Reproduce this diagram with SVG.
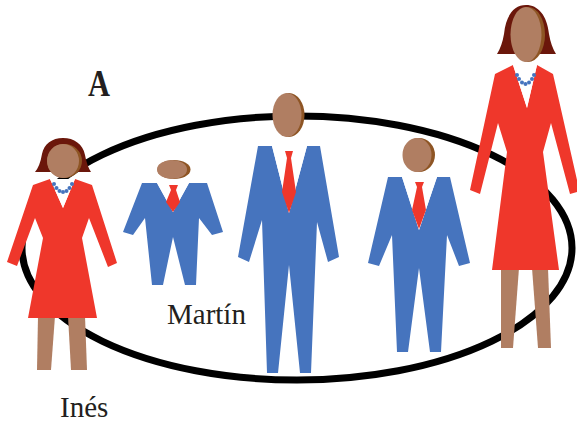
<svg xmlns="http://www.w3.org/2000/svg" width="577" height="425" viewBox="0 0 577 425">
  <defs>
    <style>
      .ring { fill: none; stroke: #000; stroke-width: 7; }
      .dress { fill: #EF372B; }
      .suit { fill: #4674BE; }
      .tie { fill: #EF372B; }
      .shirt { fill: #FFFFFF; }
      .skin { fill: #B07E62; }
      .shade { fill: #8E5524; }
      .hair { fill: #6B170B; }
      .bead { fill: #4674BE; }
      .label { font-family: "Liberation Serif", "Times New Roman", serif; fill: #231F20; }
    </style>
  </defs>

  <rect width="577" height="425" fill="#FFFFFF"/>

  <!-- family ring -->
  <g id="connectors">
    <ellipse class="ring" cx="297" cy="248" rx="275" ry="132"/>
  </g>

  <!-- panel letter -->
  <text class="label" x="88" y="96" font-size="38" font-weight="bold" textLength="22" lengthAdjust="spacingAndGlyphs">A</text>

  <!-- Inés -->
  <g id="ines">
    <polygon class="skin" points="38,316 55,316 51,370 37,370"/>
    <polygon class="skin" points="68,316 85,316 87,370 71,370"/>
    <polygon class="dress" points="50,179 33,185 7,262 17,266 35,218 43,238 28,318 97,318 82,238 89,218 108,267 117,263 92,185 75,179 63,208"/>
    <polygon class="shirt" points="50,179 75,179 63,208"/>
    <g class="bead">
      <circle cx="54" cy="184" r="2"/>
      <circle cx="56.5" cy="188" r="2"/>
      <circle cx="59.5" cy="191" r="2"/>
      <circle cx="63" cy="192" r="2"/>
      <circle cx="66.5" cy="191" r="2"/>
      <circle cx="69.5" cy="188" r="2"/>
      <circle cx="72" cy="184" r="2"/>
    </g>
    <path class="hair" d="M35,172 Q40,166 42,154 C44,144 52,138 63,138 C74,138 83,144 85,155 Q87,166 91,172 Z"/>
    <ellipse class="shade" cx="64.5" cy="161" rx="17.5" ry="17"/>
    <ellipse class="skin" cx="63" cy="161" rx="16" ry="17"/>
  </g>

  <!-- small boy -->
  <g id="boy-small">
    <polygon class="suit" points="157,183 142,183 123,232 133,235 145,218 152,285 163,285 173,237 185,285 196,285 199,218 212,235 223,232 207,183 189,183 173,212"/>
    <polygon class="shirt" points="157,183 189,183 173,212"/>
    <polygon class="tie" points="169,185 178,185 176,190 180,202 173,212 166,202 171,190"/>
    <ellipse class="shade" cx="174" cy="169.5" rx="16.5" ry="9.5"/>
    <ellipse class="skin" cx="172" cy="169.5" rx="15" ry="9.5"/>
  </g>

  <!-- Martín -->
  <g id="martin">
    <polygon class="suit" points="272,146 258,146 238,257 249,262 262,220 267,373 278,373 289,265 300,373 311,373 317,222 328,262 339,257 320,146 307,146 289,213"/>
    <polygon class="shirt" points="272,146 307,146 289,213"/>
    <polygon class="tie" points="285,151 293,151 291,158 296,192 289,213 282,192 287,158"/>
    <ellipse class="shade" cx="289" cy="115" rx="15.5" ry="22"/>
    <ellipse class="skin" cx="287" cy="115" rx="14.5" ry="22"/>
  </g>

  <!-- older boy -->
  <g id="boy-tall">
    <polygon class="suit" points="402,177 388,177 368,263 379,266 392,235 397,352 408,352 419,268 430,352 441,352 447,235 459,266 470,263 450,177 437,177 419,230"/>
    <polygon class="shirt" points="402,177 437,177 419,230"/>
    <polygon class="tie" points="415,182 424,182 422,187 426,210 419,229 412,210 417,187"/>
    <ellipse class="shade" cx="419" cy="155" rx="16" ry="17"/>
    <ellipse class="skin" cx="417" cy="155" rx="14.5" ry="17"/>
  </g>

  <!-- tall woman -->
  <g id="woman-tall">
    <polygon class="skin" points="501,268 519,268 513,348 501,348"/>
    <polygon class="skin" points="532,268 548,268 551,348 538,348"/>
    <polygon class="dress" points="513,65 495,74 470,190 480,194 498,123 507,152 492,270 559,270 543,152 551,123 570,194 577,192 577,180 553,74 537,65 527,108"/>
    <polygon class="shirt" points="513,65 537,65 527,108"/>
    <g class="bead">
      <circle cx="517" cy="75" r="2"/>
      <circle cx="519" cy="79" r="2"/>
      <circle cx="522" cy="82.5" r="2"/>
      <circle cx="525.5" cy="84" r="2"/>
      <circle cx="529" cy="82.5" r="2"/>
      <circle cx="532" cy="79" r="2"/>
      <circle cx="534" cy="75" r="2"/>
    </g>
    <path class="hair" d="M497,54 Q502,46 504,34 C506,15 514,5 526,5 C538,5 547,15 549,34 Q551,46 556,54 Z"/>
    <ellipse class="shade" cx="528" cy="34.5" rx="17" ry="27.5"/>
    <ellipse class="skin" cx="526" cy="34.5" rx="15.5" ry="27.5"/>
  </g>

  <!-- name labels -->
  <text class="label" x="167" y="324" font-size="29">Martín</text>
  <text class="label" x="60" y="417" font-size="29">Inés</text>
</svg>
